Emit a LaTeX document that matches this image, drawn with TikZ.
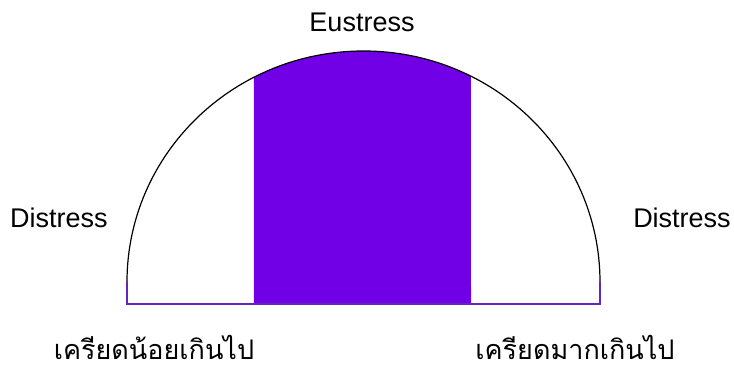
\documentclass[tikz,border=0pt]{standalone}
\usepackage{fontspec}
\setmainfont{Liberation Sans}
\newfontfamily\thaifont[Script=Thai]{Loma}
\usepackage{xcolor}
\definecolor{eupurple}{RGB}{114,0,230}
\definecolor{edgeblue}{RGB}{96,40,190}

\begin{document}
\begin{tikzpicture}[
    x=1pt, y=1pt,
    label/.style={inner sep=0pt, font=\fontsize{27}{31}\selectfont},
    thai/.style={inner sep=0pt, anchor=base, text depth=0pt, font=\thaifont\fontsize{27}{31}\selectfont},
    rim/.style={draw=black, line width=1.2pt},
    base/.style={draw=edgeblue, line width=1.2pt},
]
    \useasboundingbox (0,0) rectangle (734,367);

    % eustress band
    \fill[eupurple] (253.9,63) -- (253.9,289.7)
        arc[start angle=117.6, end angle=62.97, x radius=236.5pt, y radius=231pt]
        -- (471,63) -- cycle;

    % curve and base
    \draw[rim] (127,85) arc[start angle=180, end angle=0, x radius=236.5pt, y radius=231pt];
    \draw[base] (127,85) -- (127,63) -- (600,63) -- (600,85);

    \node[label] (eu) at (362,345) {Eustress};
    \node[label] (distL) at (59,149) {Distress};
    \node[label] (distR) at (682,149) {Distress};
    \node[thai] (lowL) at (154,8) {เครียดน้อยเกินไป};
    \node[thai] (highR) at (575,8) {เครียดมากเกินไป};
\end{tikzpicture}
\end{document}
